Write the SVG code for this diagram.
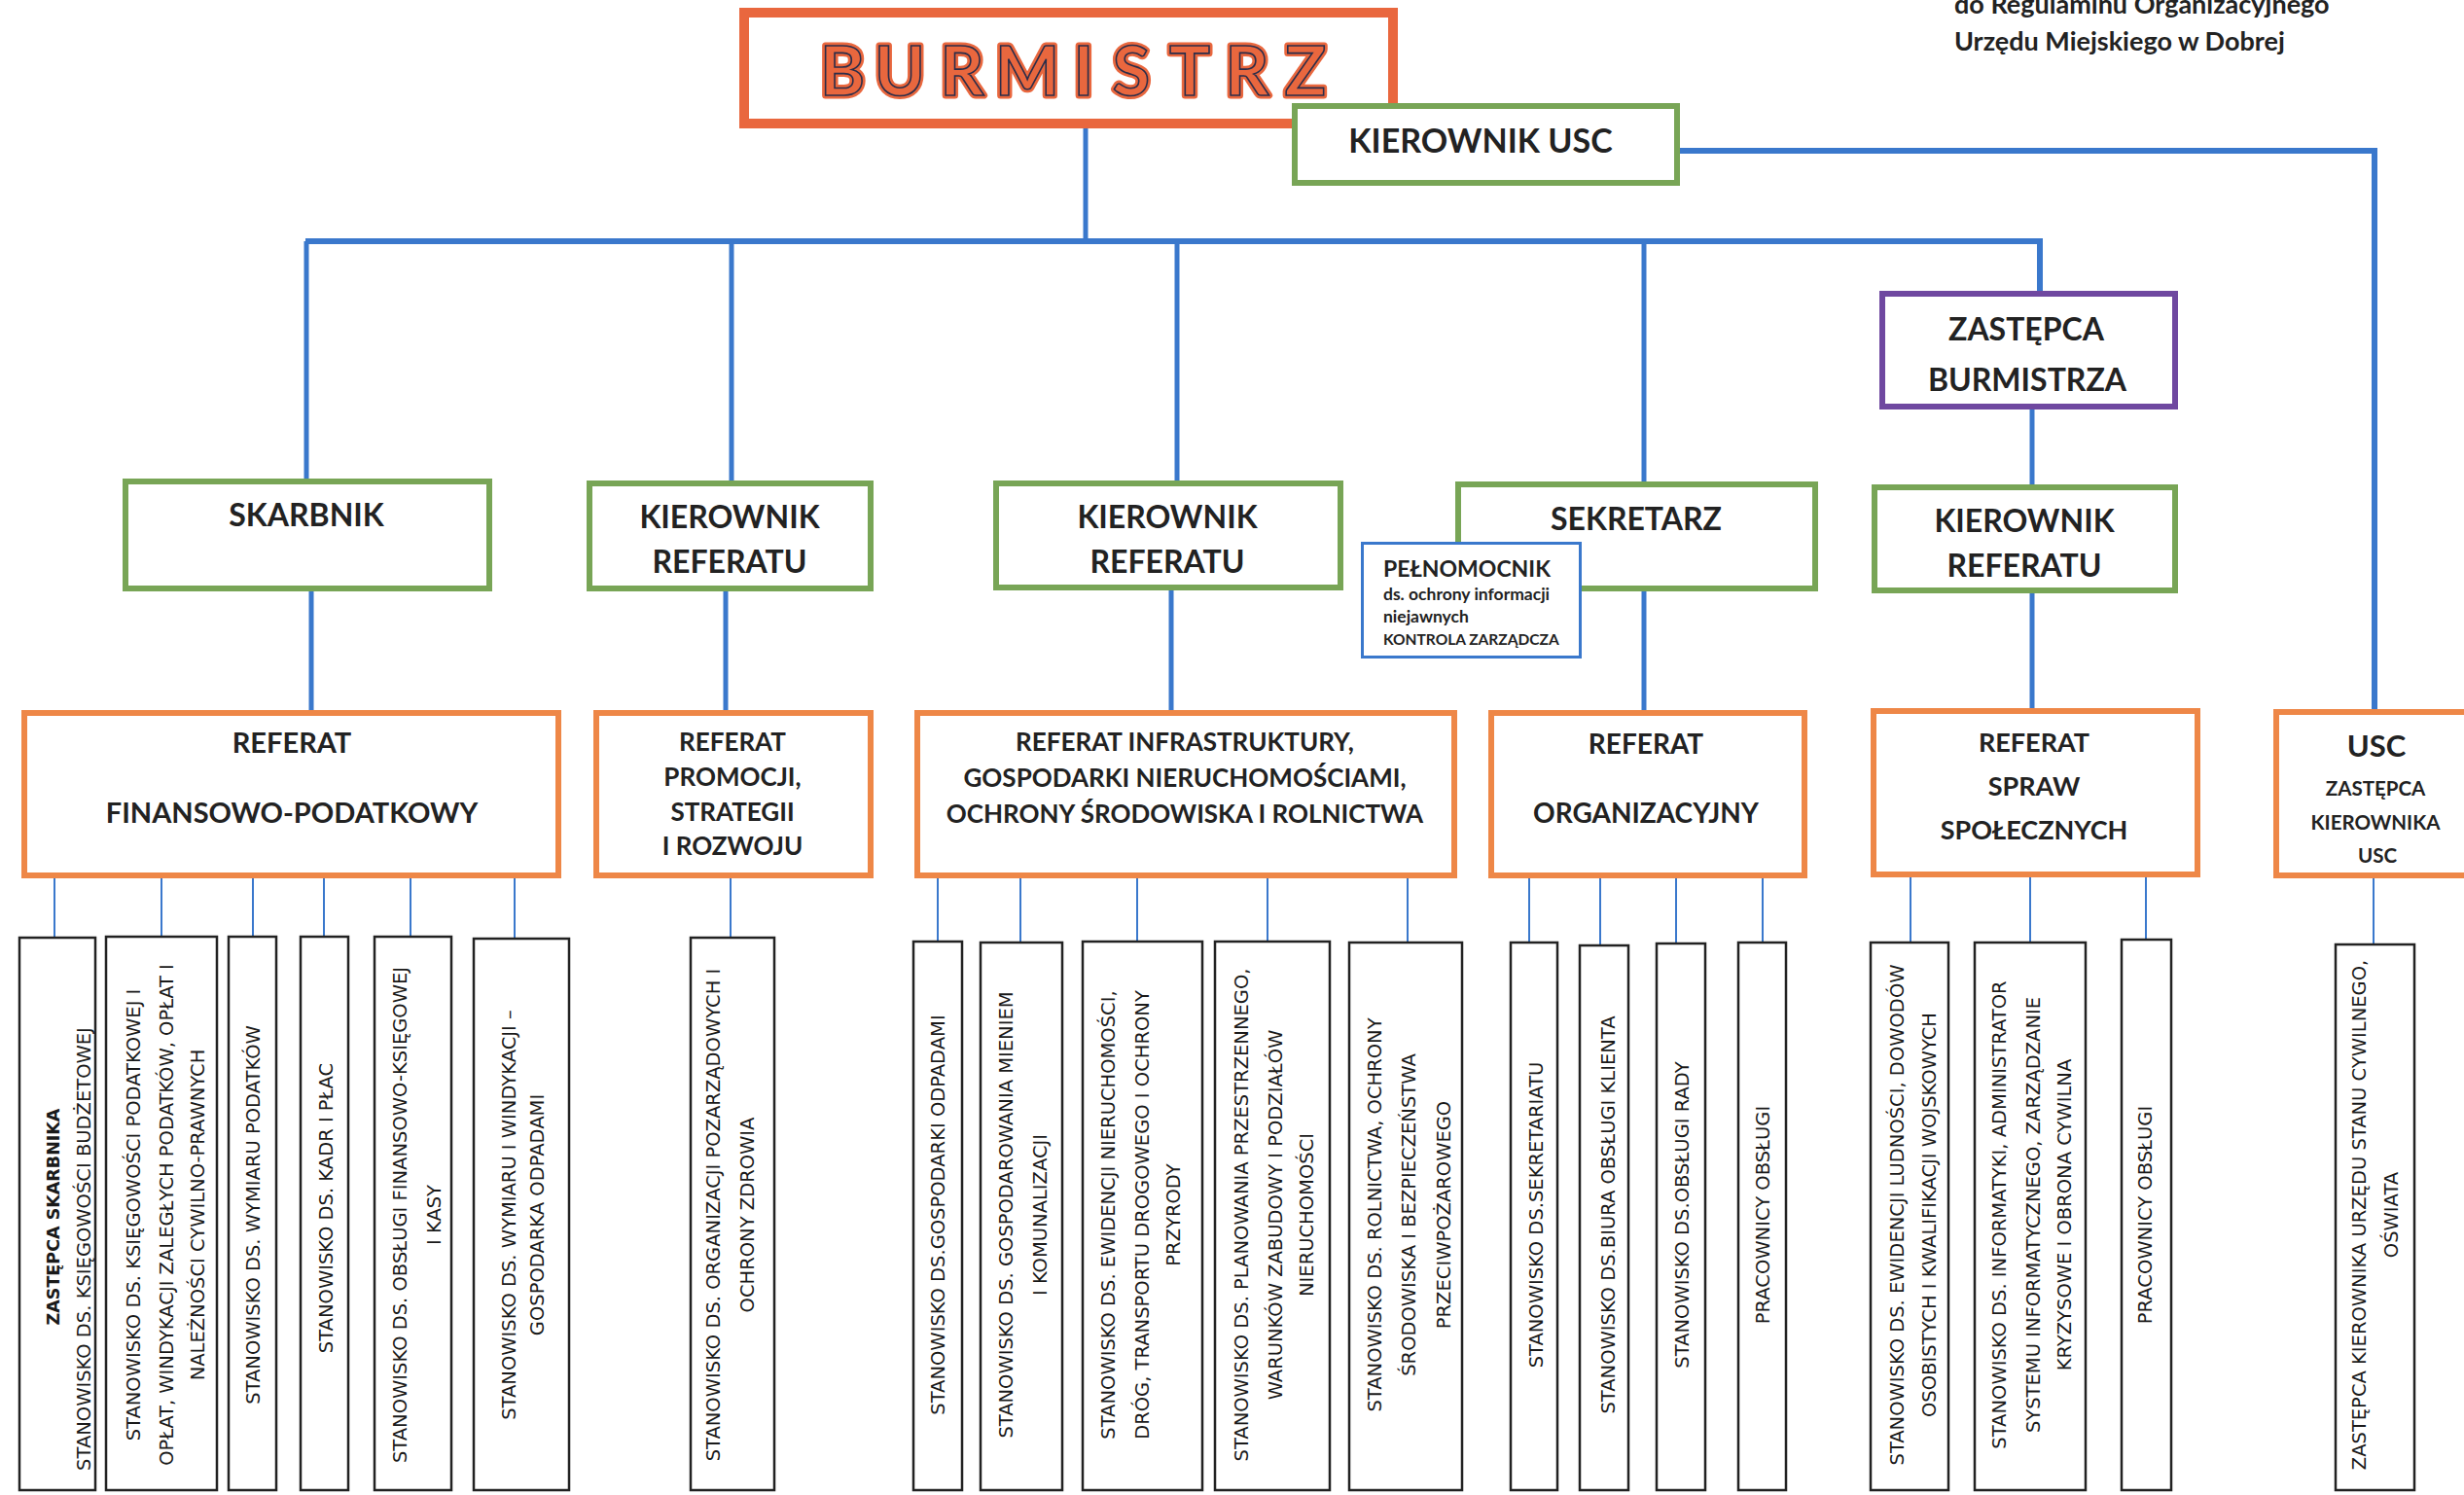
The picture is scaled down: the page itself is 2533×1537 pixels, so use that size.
<svg xmlns="http://www.w3.org/2000/svg" width="2533" height="1537" viewBox="0 0 2533 1537">
<style>
.g{fill:#fff;stroke:#78A556;stroke-width:6}
.o{fill:#fff;stroke:#EE8747;stroke-width:6}
.p{fill:#fff;stroke:#6F48A0;stroke-width:6}
.k{fill:#fff;stroke:#222;stroke-width:2.5}
.bl{fill:#fff;stroke:#3A78CC;stroke-width:3}
.t{font-family:Lato,"Open Sans",sans-serif;font-weight:700;fill:#222;text-anchor:middle}
.tl{font-family:Lato,"Open Sans",sans-serif;font-weight:700;fill:#222}
.v{font-family:"DejaVu Sans",Verdana,sans-serif;font-size:19.5px;fill:#1a1a1a;text-anchor:middle}
.vb{font-family:"DejaVu Sans",Verdana,sans-serif;font-size:17.5px;font-weight:700;fill:#1a1a1a;text-anchor:middle}
.c{fill:none;stroke:#3A78CC;stroke-width:5}
.cb{fill:none;stroke:#3A78CC;stroke-width:6}
.s{fill:none;stroke:#3A78CC;stroke-width:2}
.bm{font-family:Lato,"Open Sans",sans-serif;font-weight:700;font-size:70px;text-anchor:middle;fill:#E9673E}
</style>
<rect width="2533" height="1537" fill="#fff"/>

<g id="header">
<text class="tl" x="2009" y="14" font-size="27" fill="#333">do Regulaminu Organizacyjnego</text>
<text class="tl" x="2009" y="52" font-size="27" fill="#333">Urzędu Miejskiego w Dobrej</text>
</g>

<g id="connectors">
<path class="c" d="M1116 132V248"/>
<path class="cb" d="M314 248H2097V302"/>
<path class="c" d="M315 248V495M752 248V497M1210 248V497M1690 248V498"/>
<path class="cb" d="M1727 155H2441V732"/>
<path class="c" d="M2089 421V501"/>
<path class="c" d="M320 608V733M746 608V733M1204 607V733M1690 608V733M2089 610V731"/>
<path class="s" d="M56 903V964M166 903V963M260 903V963M333 903V963M422 903V963M529 903V965M751 903V964M964 903V968M1049 903V969M1169 903V968M1303 903V968M1447 903V969M1572 903V969M1645 903V972M1723 903V970M1812 903V969M1964 902V969M2087 902V969M2206 902V966M2440 903V971"/>
</g>

<g id="burmistrz">
<rect x="765" y="13" width="667" height="114" fill="#fff" stroke="#E9673E" stroke-width="10"/>
<text class="bm" x="866 925 989 1056 1114 1163 1223 1282 1342" y="98" stroke="#E9673E" stroke-width="7" stroke-linejoin="round">BURMISTRZ</text>
<text class="bm" x="866 925 989 1056 1114 1163 1223 1282 1342" y="98" stroke="#2A2D4A" stroke-width="1.6">BURMISTRZ</text>
</g>

<g id="kierownik-usc">
<rect class="g" x="1331" y="109" width="393" height="79"/>
<text class="t" x="1522" y="157" font-size="34">KIEROWNIK USC</text>
</g>

<g id="zastepca-burmistrza">
<rect class="p" x="1935" y="302" width="301" height="116"/>
<text class="t" x="2083" y="350" font-size="32">ZASTĘPCA</text>
<text class="t" x="2084" y="402" font-size="32">BURMISTRZA</text>
</g>

<g id="skarbnik">
<rect class="g" x="129" y="495" width="374" height="110"/>
<text class="t" x="315" y="541" font-size="32">SKARBNIK</text>
</g>
<g id="kierownik-referatu-1">
<rect class="g" x="606" y="497" width="289" height="108"/>
<text class="t" x="750" y="543" font-size="32">KIEROWNIK</text>
<text class="t" x="750" y="589" font-size="32">REFERATU</text>
</g>
<g id="kierownik-referatu-2">
<rect class="g" x="1024" y="497" width="354" height="107"/>
<text class="t" x="1200" y="543" font-size="32">KIEROWNIK</text>
<text class="t" x="1200" y="589" font-size="32">REFERATU</text>
</g>
<g id="sekretarz">
<rect class="g" x="1499" y="498" width="367" height="107"/>
<text class="t" x="1682" y="545" font-size="32">SEKRETARZ</text>
</g>
<g id="kierownik-referatu-3">
<rect class="g" x="1927" y="501" width="309" height="106"/>
<text class="t" x="2081" y="547" font-size="32">KIEROWNIK</text>
<text class="t" x="2081" y="593" font-size="32">REFERATU</text>
</g>
<g id="pelnomocnik">
<rect class="bl" x="1400.5" y="558.5" width="224" height="117"/>
<text class="tl" x="1422" y="593" font-size="23">PEŁNOMOCNIK</text>
<text class="tl" x="1422" y="617" font-size="17.5">ds. ochrony informacji</text>
<text class="tl" x="1422" y="640" font-size="17.5">niejawnych</text>
<text class="tl" x="1422" y="663" font-size="15.5">KONTROLA ZARZĄDCZA</text>
</g>

<g id="referat-finansowo-podatkowy">
<rect class="o" x="25" y="733" width="549" height="167"/>
<text class="t" x="300" y="774" font-size="29">REFERAT</text>
<text class="t" x="300" y="846" font-size="29">FINANSOWO-PODATKOWY</text>
</g>
<g id="referat-promocji">
<rect class="o" x="613" y="733" width="282" height="167"/>
<text class="t" x="753" y="772" font-size="26">REFERAT</text>
<text class="t" x="753" y="808" font-size="26">PROMOCJI,</text>
<text class="t" x="753" y="844" font-size="26">STRATEGII</text>
<text class="t" x="753" y="879" font-size="26">I ROZWOJU</text>
</g>
<g id="referat-infrastruktury">
<rect class="o" x="943" y="733" width="552" height="167"/>
<text class="t" x="1218" y="772" font-size="26">REFERAT INFRASTRUKTURY,</text>
<text class="t" x="1218" y="809" font-size="26">GOSPODARKI NIERUCHOMOŚCIAMI,</text>
<text class="t" x="1218" y="846" font-size="26">OCHRONY ŚRODOWISKA I ROLNICTWA</text>
</g>
<g id="referat-organizacyjny">
<rect class="o" x="1533" y="733" width="322" height="167"/>
<text class="t" x="1692" y="775" font-size="28">REFERAT</text>
<text class="t" x="1692" y="846" font-size="28">ORGANIZACYJNY</text>
</g>
<g id="referat-spraw-spolecznych">
<rect class="o" x="1926" y="731" width="333" height="168"/>
<text class="t" x="2091" y="773" font-size="27">REFERAT</text>
<text class="t" x="2091" y="818" font-size="27">SPRAW</text>
<text class="t" x="2091" y="863" font-size="27">SPOŁECZNYCH</text>
</g>
<g id="usc">
<rect class="o" x="2340" y="732" width="210" height="168"/>
<text class="t" x="2443" y="778" font-size="31">USC</text>
<text class="t" x="2442" y="818" font-size="20.5">ZASTĘPCA</text>
<text class="t" x="2442" y="853" font-size="20.5">KIEROWNIKA</text>
<text class="t" x="2444" y="887" font-size="20.5">USC</text>
</g>

<g id="st-a"><rect class="k" x="20" y="964" width="78" height="568"/>
<text class="vb" transform="translate(61,1251) rotate(-90)">ZASTĘPCA SKARBNIKA</text>
<text class="v" transform="translate(93,1284) rotate(-90)">STANOWISKO DS. KSIĘGOWOŚCI BUDŻETOWEJ</text></g>
<g id="st-b"><rect class="k" x="109" y="963" width="114" height="569"/>
<text class="v" transform="translate(144,1249) rotate(-90)">STANOWISKO DS. KSIĘGOWOŚCI PODATKOWEJ I</text>
<text class="v" transform="translate(178,1249) rotate(-90)">OPŁAT, WINDYKACJI ZALEGŁYCH PODATKÓW, OPŁAT I</text>
<text class="v" transform="translate(210,1249) rotate(-90)">NALEŻNOŚCI CYWILNO-PRAWNYCH</text></g>
<g id="st-c"><rect class="k" x="235" y="963" width="49" height="569"/>
<text class="v" transform="translate(267,1249) rotate(-90)">STANOWISKO DS. WYMIARU PODATKÓW</text></g>
<g id="st-d"><rect class="k" x="309" y="963" width="49" height="569"/>
<text class="v" transform="translate(342,1242) rotate(-90)">STANOWISKO DS. KADR I PŁAC</text></g>
<g id="st-e"><rect class="k" x="385" y="963" width="79" height="569"/>
<text class="v" transform="translate(418,1249) rotate(-90)">STANOWISKO DS. OBSŁUGI FINANSOWO-KSIĘGOWEJ</text>
<text class="v" transform="translate(453,1249) rotate(-90)">I KASY</text></g>
<g id="st-f"><rect class="k" x="487" y="965" width="98" height="567"/>
<text class="v" transform="translate(530,1249) rotate(-90)">STANOWISKO DS. WYMIARU I WINDYKACJI –</text>
<text class="v" transform="translate(559,1249) rotate(-90)">GOSPODARKA ODPADAMI</text></g>
<g id="st-g"><rect class="k" x="710" y="964" width="86" height="568"/>
<text class="v" transform="translate(740,1249) rotate(-90)">STANOWISKO DS. ORGANIZACJI POZARZĄDOWYCH I</text>
<text class="v" transform="translate(775,1249) rotate(-90)">OCHRONY ZDROWIA</text></g>
<g id="st-h"><rect class="k" x="939" y="968" width="50" height="564"/>
<text class="v" transform="translate(971,1249) rotate(-90)">STANOWISKO DS.GOSPODARKI ODPADAMI</text></g>
<g id="st-i"><rect class="k" x="1008" y="969" width="84" height="563"/>
<text class="v" transform="translate(1041,1249) rotate(-90)">STANOWISKO DS. GOSPODAROWANIA MIENIEM</text>
<text class="v" transform="translate(1076,1249) rotate(-90)">I KOMUNALIZACJI</text></g>
<g id="st-j"><rect class="k" x="1113" y="968" width="123" height="564"/>
<text class="v" transform="translate(1146,1249) rotate(-90)">STANOWISKO DS. EWIDENCJI NIERUCHOMOŚCI,</text>
<text class="v" transform="translate(1181,1249) rotate(-90)">DRÓG, TRANSPORTU DROGOWEGO I OCHRONY</text>
<text class="v" transform="translate(1213,1249) rotate(-90)">PRZYRODY</text></g>
<g id="st-k"><rect class="k" x="1249" y="968" width="118" height="564"/>
<text class="v" transform="translate(1283,1249) rotate(-90)">STANOWISKO DS. PLANOWANIA PRZESTRZENNEGO,</text>
<text class="v" transform="translate(1318,1249) rotate(-90)">WARUNKÓW ZABUDOWY I PODZIAŁÓW</text>
<text class="v" transform="translate(1350,1249) rotate(-90)">NIERUCHOMOŚCI</text></g>
<g id="st-l"><rect class="k" x="1387" y="969" width="116" height="563"/>
<text class="v" transform="translate(1420,1249) rotate(-90)">STANOWISKO DS. ROLNICTWA, OCHRONY</text>
<text class="v" transform="translate(1455,1249) rotate(-90)">ŚRODOWISKA I BEZPIECZEŃSTWA</text>
<text class="v" transform="translate(1491,1249) rotate(-90)">PRZECIWPOŻAROWEGO</text></g>
<g id="st-m"><rect class="k" x="1553" y="969" width="48" height="563"/>
<text class="v" transform="translate(1586,1249) rotate(-90)">STANOWISKO DS.SEKRETARIATU</text></g>
<g id="st-n"><rect class="k" x="1624" y="972" width="50" height="560"/>
<text class="v" transform="translate(1660,1249) rotate(-90)">STANOWISKO DS.BIURA OBSŁUGI KLIENTA</text></g>
<g id="st-o"><rect class="k" x="1703" y="970" width="50" height="562"/>
<text class="v" transform="translate(1736,1249) rotate(-90)">STANOWISKO DS.OBSŁUGI RADY</text></g>
<g id="st-p"><rect class="k" x="1787" y="969" width="49" height="563"/>
<text class="v" transform="translate(1819,1249) rotate(-90)">PRACOWNICY OBSŁUGI</text></g>
<g id="st-q"><rect class="k" x="1923" y="969" width="80" height="563"/>
<text class="v" transform="translate(1957,1249) rotate(-90)">STANOWISKO DS. EWIDENCJI LUDNOŚCI, DOWODÓW</text>
<text class="v" transform="translate(1990,1249) rotate(-90)">OSOBISTYCH I KWALIFIKACJI WOJSKOWYCH</text></g>
<g id="st-r"><rect class="k" x="2030" y="969" width="114" height="563"/>
<text class="v" transform="translate(2062,1249) rotate(-90)">STANOWISKO DS. INFORMATYKI, ADMINISTRATOR</text>
<text class="v" transform="translate(2097,1249) rotate(-90)">SYSTEMU INFORMATYCZNEGO, ZARZĄDZANIE</text>
<text class="v" transform="translate(2129,1249) rotate(-90)">KRYZYSOWE I OBRONA CYWILNA</text></g>
<g id="st-s"><rect class="k" x="2181" y="966" width="51" height="566"/>
<text class="v" transform="translate(2212,1249) rotate(-90)">PRACOWNICY OBSŁUGI</text></g>
<g id="st-t"><rect class="k" x="2401" y="971" width="81" height="561"/>
<text class="v" transform="translate(2432,1249) rotate(-90)">ZASTĘPCA KIEROWNIKA URZĘDU STANU CYWILNEGO,</text>
<text class="v" transform="translate(2465,1249) rotate(-90)">OŚWIATA</text></g>
</svg>
